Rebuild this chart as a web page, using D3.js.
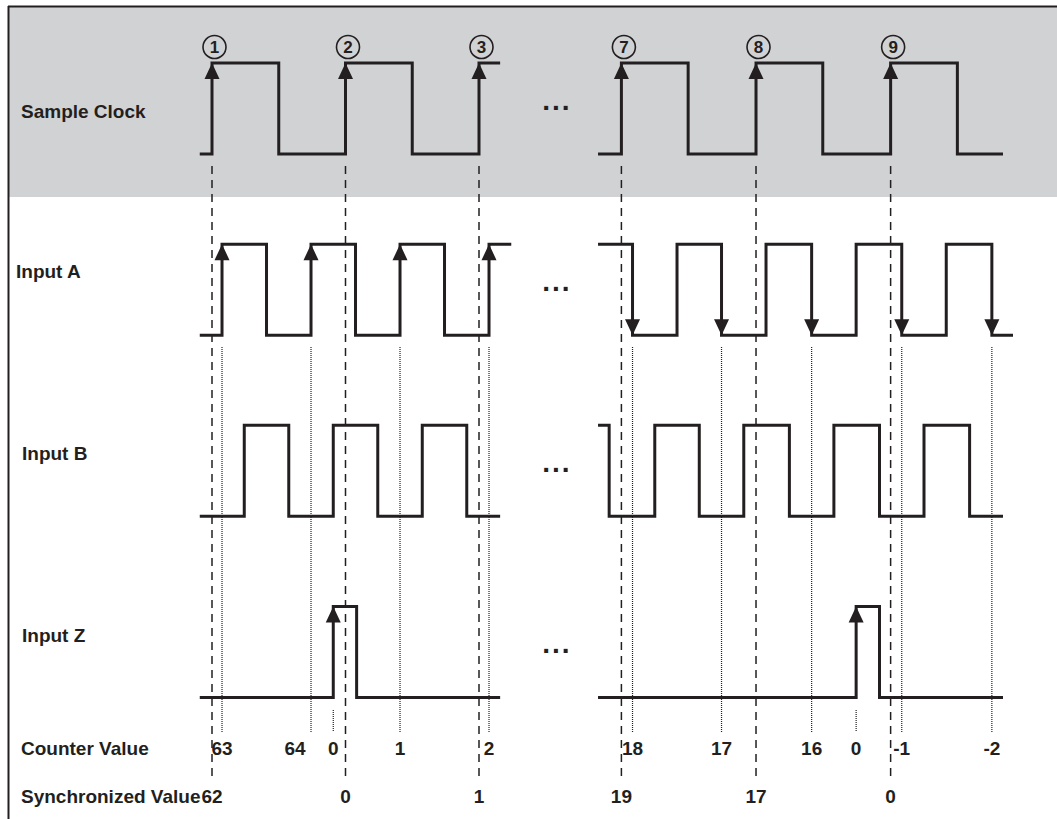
<!DOCTYPE html>
<html>
<head>
<meta charset="utf-8">
<script src="https://cdn.jsdelivr.net/npm/d3@7"></script>
<style>
  body { margin: 0; background: #fff; }
  text { font-family: "Liberation Sans", Arial, sans-serif; font-weight: bold; fill: #231f20; }
</style>
</head>
<body>
<script>
// time units: one quarter of the Input A period
// signal steps: [time, level] (level holds until next step)
var clockLeft  = [[-0.55,0],[0,1],[3,0],[6,1],[9,0],[12,1],[12.95,1]];
var clockRight = [[17.35,0],[18.4,1],[21.4,0],[24.45,1],[27.45,0],[30.5,1],[33.5,0],[35.55,0]];
var inputALeft  = [[-0.55,0],[0.45,1],[2.45,0],[4.45,1],[6.45,0],[8.45,1],[10.45,0],[12.45,1],[13.45,1]];
var inputARight = [[17.35,1],[18.9,0],[20.9,1],[22.9,0],[24.9,1],[26.95,0],[28.95,1],[31.0,0],[33.0,1],[35.05,0],[36.0,0]];
var inputBLeft  = [[-0.55,0],[1.45,1],[3.45,0],[5.45,1],[7.45,0],[9.45,1],[11.45,0],[12.95,0]];
var inputBRight = [[17.35,1],[17.85,0],[19.9,1],[21.9,0],[23.9,1],[25.95,0],[27.95,1],[30.0,0],[32.0,1],[34.05,0],[35.55,0]];
var inputZLeft  = [[-0.55,0],[5.45,1],[6.5,0],[12.95,0]];
var inputZRight = [[17.35,0],[28.95,1],[30.0,0],[35.55,0]];

var rowNames = ["Sample Clock", "Input A", "Input B", "Input Z"];

// sample clock rising edges and their circled numbers
var sampleTimes = [0, 6, 12, 18.4, 24.45, 30.5];
var sampleNums  = ["1", "2", "3", "7", "8", "9"];
var syncValues  = ["62", "0", "1", "19", "17", "0"];

// counted edges of Input A (up = rising, down = falling)
var countUpTimes   = [0.45, 4.45, 8.45, 12.45];
var countDownTimes = [18.9, 22.9, 26.95, 31.0, 35.05];
var zTimes = [5.45, 28.95];

var counterTimes  = [0.45, 4.45, 5.45, 8.45, 12.45, 18.9, 22.9, 26.95, 28.95, 31.0, 35.05];
var counterValues = ["63", "64", "0", "1", "2", "18", "17", "16", "0", "-1", "-2"];

var gapTime = 15.5;

var W = 1057, H = 819;
var ink = "#231f20";

var svg = d3.select("body").append("svg")
    .attr("width", W)
    .attr("height", H);

var x = d3.scaleLinear().domain([0, 10]).range([212, 434.5]);

// each row: low level and high level
var rowLow = d3.scaleLinear().domain([0, 3]).range([154, 697.5]);
function yLevel(row) {
    return d3.scaleLinear().domain([0, 1]).range([rowLow(row), rowLow(row) - 91]);
}

// gray band + frame
svg.append("rect").attr("x", 8).attr("y", 6).attr("width", W - 8).attr("height", 191).attr("fill", "#d1d2d4");
svg.append("line").attr("x1", 8).attr("x2", W).attr("y1", 6.5).attr("y2", 6.5).attr("stroke", ink).attr("stroke-width", 2);
svg.append("line").attr("x1", 8.5).attr("x2", 8.5).attr("y1", 6).attr("y2", H).attr("stroke", ink).attr("stroke-width", 2);

// dashed lines at sample clock edges
svg.selectAll(".dash").data(sampleTimes).enter().append("line")
    .attr("x1", d => x(d)).attr("x2", d => x(d))
    .attr("y1", 166).attr("y2", 777)
    .attr("stroke", ink).attr("stroke-width", 1.5)
    .attr("stroke-dasharray", "8,6");

// dotted lines at counted edges
svg.selectAll(".dot").data(countUpTimes.concat(countDownTimes)).enter().append("line")
    .attr("x1", d => x(d)).attr("x2", d => x(d))
    .attr("y1", 347).attr("y2", 732)
    .attr("stroke", ink).attr("stroke-width", 1.2)
    .attr("stroke-dasharray", "1,1");
svg.selectAll(".zdot").data(zTimes).enter().append("line")
    .attr("x1", d => x(d)).attr("x2", d => x(d))
    .attr("y1", 710).attr("y2", 732)
    .attr("stroke", ink).attr("stroke-width", 1.2)
    .attr("stroke-dasharray", "1,1");

// waveforms
var signals = [[clockLeft, clockRight], [inputALeft, inputARight], [inputBLeft, inputBRight], [inputZLeft, inputZRight]];
signals.forEach(function(parts, row) {
    var y = yLevel(row);
    var line = d3.line().x(d => x(d[0])).y(d => y(d[1])).curve(d3.curveStepAfter);
    parts.forEach(function(p) {
        svg.append("path").attr("d", line(p))
            .attr("fill", "none").attr("stroke", ink).attr("stroke-width", 3);
    });
});

// arrow heads
function arrow(t, row, up) {
    var y = yLevel(row);
    var tip = up ? y(1) : y(0);
    var base = up ? tip + 16 : tip - 16;
    var cx = x(t);
    svg.append("path")
        .attr("d", "M" + cx + "," + tip + "L" + (cx - 7.5) + "," + base + "L" + (cx + 7.5) + "," + base + "Z")
        .attr("fill", ink);
}
sampleTimes.forEach(t => arrow(t, 0, true));
countUpTimes.forEach(t => arrow(t, 1, true));
countDownTimes.forEach(t => arrow(t, 1, false));
zTimes.forEach(t => arrow(t, 3, true));

// circled numbers
var circ = svg.selectAll(".circ").data(sampleTimes).enter().append("g")
    .attr("transform", d => "translate(" + (x(d) + 2.5) + ",47)");
circ.append("circle").attr("r", 11.5).attr("fill", "none").attr("stroke", ink).attr("stroke-width", 1.6);
circ.append("text").attr("text-anchor", "middle").attr("dy", 6).style("font-size", "17px")
    .text((d, i) => sampleNums[i]);

// row labels
var labelPos = [[21, 118], [16, 278], [22, 460], [22, 642]];
svg.selectAll(".lab").data(rowNames).enter().append("text")
    .attr("x", (d, i) => labelPos[i][0]).attr("y", (d, i) => labelPos[i][1])
    .style("font-size", "19px").text(d => d);

svg.append("text").attr("x", 21).attr("y", 755).style("font-size", "19px").text("Counter Value");
svg.append("text").attr("x", 21).attr("y", 803).style("font-size", "19px").text("Synchronized Value");

// ellipsis between the two segments
rowNames.forEach(function(n, row) {
    var y = yLevel(row);
    svg.append("text").attr("x", x(gapTime)).attr("y", (y(0) + y(1)) / 2 + 1)
        .attr("text-anchor", "middle").style("font-size", "28px").style("letter-spacing", "2px")
        .text("...");
});

// counter values
svg.selectAll(".cnt").data(counterValues).enter().append("text")
    .attr("x", (d, i) => x(counterTimes[i]) + (d == "64" ? -16 : 0))
    .attr("y", 755)
    .attr("text-anchor", "middle")
    .style("font-size", "19px")
    .text(d => d);

// synchronized values
svg.selectAll(".sync").data(syncValues).enter().append("text")
    .attr("x", (d, i) => x(sampleTimes[i]))
    .attr("y", 803)
    .attr("text-anchor", "middle")
    .style("font-size", "19px")
    .text(d => d);
</script>
</body>
</html>
